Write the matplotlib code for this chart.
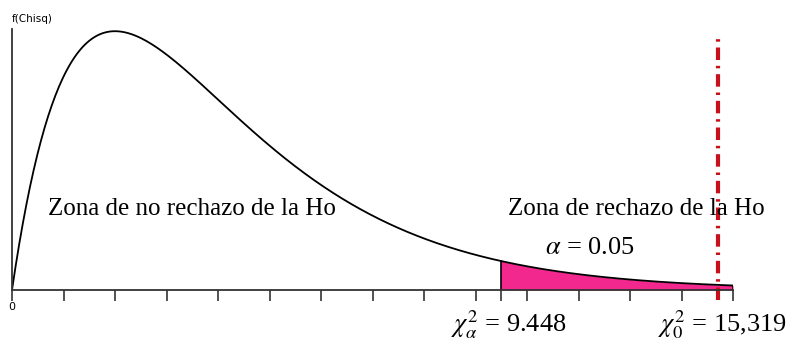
import numpy as np
import matplotlib.pyplot as plt

# Chi-square distribution with 4 degrees of freedom
df = 4
x_max = 14
alpha = 0.05
chi_crit = 9.488          # critical value position on axis
chi_crit_label = '9.448'
chi_obs_pos = 13.7        # where the observed statistic line is drawn
chi_obs_label = '15,319'
tick_values = list(range(0, 15))


def chi_pdf(v):
    # gamma(df/2) = gamma(2) = 1
    return v ** (df / 2 - 1) * np.exp(-v / 2) / 2 ** (df / 2)


x = np.linspace(0, x_max, 600)
y = chi_pdf(x)

fig = plt.figure(figsize=(7.89, 3.44), dpi=100)
ax = fig.add_axes([12 / 789, 54 / 344, 721 / 789, 261 / 344])

# curve and rejection zone
ax.plot(x, y, color='black', lw=1.3)
mask = x >= chi_crit
ax.fill_between(x[mask], y[mask], color='#f2288f', lw=0)
ax.plot([chi_crit, chi_crit], [0, chi_pdf(chi_crit)], color='black', lw=1.2)
ax.plot([x_max, x_max], [0, y[-1]], color='black', lw=1.2)

# observed statistic
ax.plot([chi_obs_pos, chi_obs_pos], [-0.007, 0.181], color='#c8101a', lw=3,
        linestyle=(0, (3, 1.4, 0.6, 1.4)), clip_on=False)

ax.set_xlim(0, x_max)
ax.set_ylim(0, 0.1855)
for s in ['top', 'right']:
    ax.spines[s].set_visible(False)
ax.spines['left'].set_color('#333333')
ax.spines['bottom'].set_color('#333333')
ax.spines['left'].set_linewidth(1.3)
ax.spines['bottom'].set_linewidth(1.3)

ax.set_yticks([])
ax.set_xticks(tick_values + [chi_crit])
ax.set_xticklabels(['0'] + [''] * (len(tick_values) - 1) + [''])
ax.tick_params(axis='x', length=8, width=1.2, color='#333333', pad=1, labelsize=8)

ax.text(0, 0.189, 'f(Chisq)', fontsize=7.5, ha='left', va='bottom', clip_on=False)

serif = 'Liberation Serif'
ax.text(0.70, 0.0575, 'Zona de no rechazo de la Ho', family=serif, fontsize=18, ha='left', va='center')
ax.text(9.63, 0.0575, 'Zona de rechazo de la Ho', family=serif, fontsize=18, ha='left', va='center')
ax.text(11.22, 0.0298, r'$\alpha$ = 0.05', family=serif, fontsize=19, ha='center', va='center',
        math_fontfamily='stix')
ax.text(8.52, -0.0245, r'$\chi^2_\alpha$ = ' + chi_crit_label, family=serif, fontsize=19,
        ha='left', va='center', math_fontfamily='stix', clip_on=False)
ax.text(12.55, -0.0245, r'$\chi^2_0$ = ' + chi_obs_label, family=serif, fontsize=19,
        ha='left', va='center', math_fontfamily='stix', clip_on=False)

fig.savefig('out.png', dpi=100)
